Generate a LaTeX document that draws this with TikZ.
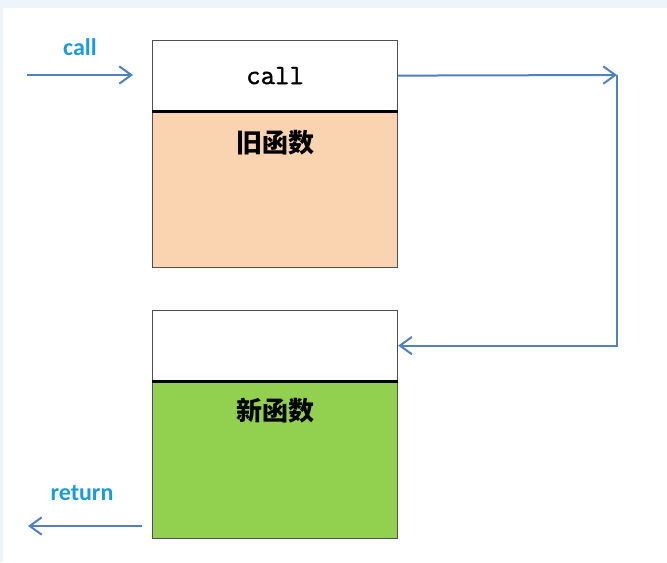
\documentclass[tikz,border=0pt]{standalone}
\usepackage{fontspec}
\newfontfamily\cjk{Noto Sans CJK SC}
\newfontfamily\lbl{Carlito}
\newfontfamily\mono[AutoFakeBold=1.4]{Latin Modern Mono}
\usetikzlibrary{arrows.meta}
\definecolor{peach}{HTML}{FAD3B1}
\definecolor{lime}{HTML}{92D050}
\definecolor{steel}{HTML}{5080BE}
\definecolor{cyanlbl}{HTML}{1C9BD8}
\definecolor{edge}{HTML}{505050}
\definecolor{band}{HTML}{EDF4FA}
\begin{document}
\begin{tikzpicture}[x=0.75pt,y=-0.75pt,
  cell/.style={draw=edge,line width=0.9pt,minimum width=183.75pt,inner sep=0pt,anchor=north west},
  headcell/.style={cell,fill=white,minimum height=52.5pt,font=\mono\bfseries\fontsize{21}{21}\selectfont},
  divider/.style={draw=black,line width=2pt},
  fnlabel/.style={font=\cjk\bfseries\fontsize{19.5}{19.5}\selectfont,inner sep=0pt},
  sidelabel/.style={text=cyanlbl,font=\lbl\bfseries\fontsize{18}{18}\selectfont,inner sep=0pt},
  conn/.style={draw=steel,line width=1.5pt,-{Straight Barb[length=9pt,width=13pt]}}]
\fill[band] (0,0) rectangle (667,562);
\fill[white] (3,8) rectangle (667,562);
\useasboundingbox (0,0) rectangle (667,562);
% old function
\node[cell,fill=peach,minimum height=117.75pt] (oldbody) at (152,110) {};
\node[headcell] (oldhead) at (152,40) {call};
\draw[divider] (oldhead.south west) -- (oldhead.south east);
\node[fnlabel] (oldname) at (275,143) {旧函数};
% new function
\node[cell,fill=lime,minimum height=118.5pt] (newbody) at (152,380) {};
\node[headcell] (newhead) at (152,310) {};
\draw[divider] (newhead.south west) -- (newhead.south east);
\node[fnlabel] (newname) at (275,411) {新函数};
% side labels
\node[sidelabel] (calllbl) at (80,47) {call};
\node[sidelabel] (retlbl) at (82,493) {return};
% connectors
\coordinate (insrc) at (27,75);
\coordinate (indst) at (133,75);
\coordinate (turn) at (617,75);
\coordinate (retsrc) at (142,526);
\coordinate (retdst) at (28,526);
\draw[conn] (insrc) -- (indst);
\draw[conn] (oldhead.east) -- (turn);
\draw[conn] (turn) |- (newhead.east);
\draw[conn] (retsrc) -- (retdst);
\end{tikzpicture}
\end{document}
